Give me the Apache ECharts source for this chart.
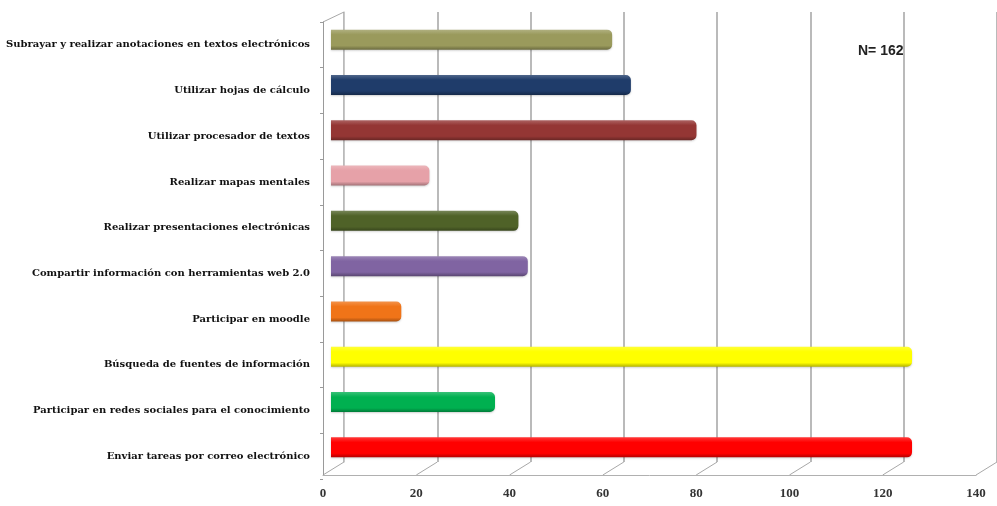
<!DOCTYPE html>
<html>
<head>
<meta charset="utf-8">
<title>Uso de herramientas TIC</title>
<script src="https://cdn.jsdelivr.net/npm/echarts@6/dist/echarts.min.js"></script>
<style>
  html, body { margin: 0; padding: 0; background: #ffffff; }
  #chart { width: 997px; height: 506px; }
</style>
</head>
<body>
<div id="chart"></div>
<script>
// Activities, top to bottom
const categories = [
  'Subrayar y realizar anotaciones en textos electrónicos',
  'Utilizar hojas de cálculo',
  'Utilizar procesador de textos',
  'Realizar mapas mentales',
  'Realizar presentaciones electrónicas',
  'Compartir información con herramientas web 2.0',
  'Participar en moodle',
  'Búsqueda de fuentes de información',
  'Participar en redes sociales para el conocimiento',
  'Enviar tareas por correo electrónico'
];
// Number of respondents per activity
const values = [60, 64, 78, 21, 40, 42, 15, 124, 35, 124];
// Fill colour of each bar
const barColors = ['#9a9a5c', '#1f3c6a', '#943634', '#e6a1a8', '#4f6228',
                   '#8064a2', '#f07418', '#ffff00', '#00b050', '#ff0000'];
// Value axis
const axisMin = 0, axisMax = 140, axisStep = 20;
const noteText = 'N= 162';

function shade(hex, amt) {
  const n = parseInt(hex.slice(1), 16);
  let r = n >> 16, g = (n >> 8) & 255, b = n & 255;
  const f = c => amt >= 0 ? Math.round(c + (255 - c) * amt) : Math.round(c * (1 + amt));
  return 'rgb(' + f(r) + ',' + f(g) + ',' + f(b) + ')';
}

const chart = echarts.init(document.getElementById('chart'), null, { renderer: 'canvas' });

// Layout: bars sit at mid depth, the back wall carries the gridlines,
// the front edge carries the value labels, and a label grid holds the categories
const MID   = { left: 331, top: 17, width: 656, height: 453 };
const BACK  = { left: 344, top: 12, width: 656, height: 450 };
const LABEL = { left: 323, top: 22, width: 653, height: 457 };
const FRONT = { left: 323, top: 22, width: 653, height: 453 };

const labelFont = 'DejaVu Serif';

const barData = values.map((v, i) => ({
  value: v,
  itemStyle: {
    color: new echarts.graphic.LinearGradient(0, 0, 0, 1, [
      { offset: 0, color: shade(barColors[i], 0.22) },
      { offset: 0.25, color: barColors[i] },
      { offset: 0.8, color: barColors[i] },
      { offset: 1, color: shade(barColors[i], -0.3) }
    ]),
    borderRadius: [0, 5, 5, 0]
  }
}));

const option = {
  animation: false,
  backgroundColor: '#ffffff',
  grid: [MID, BACK, LABEL, FRONT].map(g => Object.assign({ containLabel: false }, g)),
  xAxis: [
    { gridIndex: 0, type: 'value', min: axisMin, max: axisMax, interval: axisStep, show: false },
    { gridIndex: 1, type: 'value', min: axisMin, max: axisMax, interval: axisStep,
      axisLine: { show: false }, axisTick: { show: false }, axisLabel: { show: false },
      splitLine: { show: true, lineStyle: { color: '#a3a3a3', width: 1.5 } } },
    { gridIndex: 2, type: 'value', min: axisMin, max: axisMax, interval: axisStep, show: false },
    { gridIndex: 3, type: 'value', min: axisMin, max: axisMax, interval: axisStep,
      axisLine: { show: true, lineStyle: { color: '#b0b0b0', width: 1 } },
      axisTick: { show: false },
      splitLine: { show: false },
      axisLabel: { show: true, margin: 12, color: '#333333', fontFamily: 'Liberation Serif',
                   fontWeight: 'bold', fontSize: 13 } }
  ],
  yAxis: [
    { gridIndex: 0, type: 'category', data: categories, inverse: true, show: false },
    { gridIndex: 1, type: 'category', data: categories, inverse: true,
      axisLine: { show: true, lineStyle: { color: '#c8c8c8', width: 1 } },
      axisTick: { show: false }, axisLabel: { show: false }, splitLine: { show: false } },
    { gridIndex: 2, type: 'category', data: categories, inverse: true,
      axisLine: { show: false },
      axisTick: { show: true, length: 3, inside: false, lineStyle: { color: '#9a9a9a' } },
      axisLabel: { show: true, margin: 13, color: '#111111', fontFamily: labelFont,
                   fontWeight: 'bold', fontSize: 10 } },
    { gridIndex: 3, type: 'value', min: 0, max: 1, show: true,
      axisLine: { show: true, lineStyle: { color: '#9a9a9a', width: 1 } },
      axisTick: { show: false }, axisLabel: { show: false }, splitLine: { show: false } }
  ],
  series: [
    { type: 'bar', xAxisIndex: 0, yAxisIndex: 0, data: barData, barWidth: 20,
      itemStyle: { shadowColor: 'rgba(0,0,0,0.18)', shadowBlur: 2, shadowOffsetY: 1 } }
  ],
  graphic: [
    { type: 'text', left: 858, top: 44,
      style: { text: noteText, fill: '#222222', font: 'bold 14px "Liberation Sans"' } }
  ]
};

chart.setOption(option);

// Floor and wall edges joining the front edge to the back wall
const floorFront = FRONT.top + FRONT.height;
const floorBack = BACK.top + BACK.height;
const edges = [];
for (let v = axisMin; v <= axisMax; v += axisStep) {
  const xf = chart.convertToPixel({ xAxisIndex: 3 }, v);
  const xb = chart.convertToPixel({ xAxisIndex: 1 }, v);
  edges.push({ type: 'line', silent: true,
    shape: { x1: xf, y1: floorFront, x2: xb, y2: floorBack },
    style: { stroke: '#a8a8a8', lineWidth: 1 } });
}
edges.push({ type: 'line', silent: true,
  shape: { x1: FRONT.left, y1: FRONT.top, x2: BACK.left, y2: BACK.top },
  style: { stroke: '#a8a8a8', lineWidth: 1 } });
chart.setOption({ graphic: option.graphic.concat(edges) });
</script>
</body>
</html>
